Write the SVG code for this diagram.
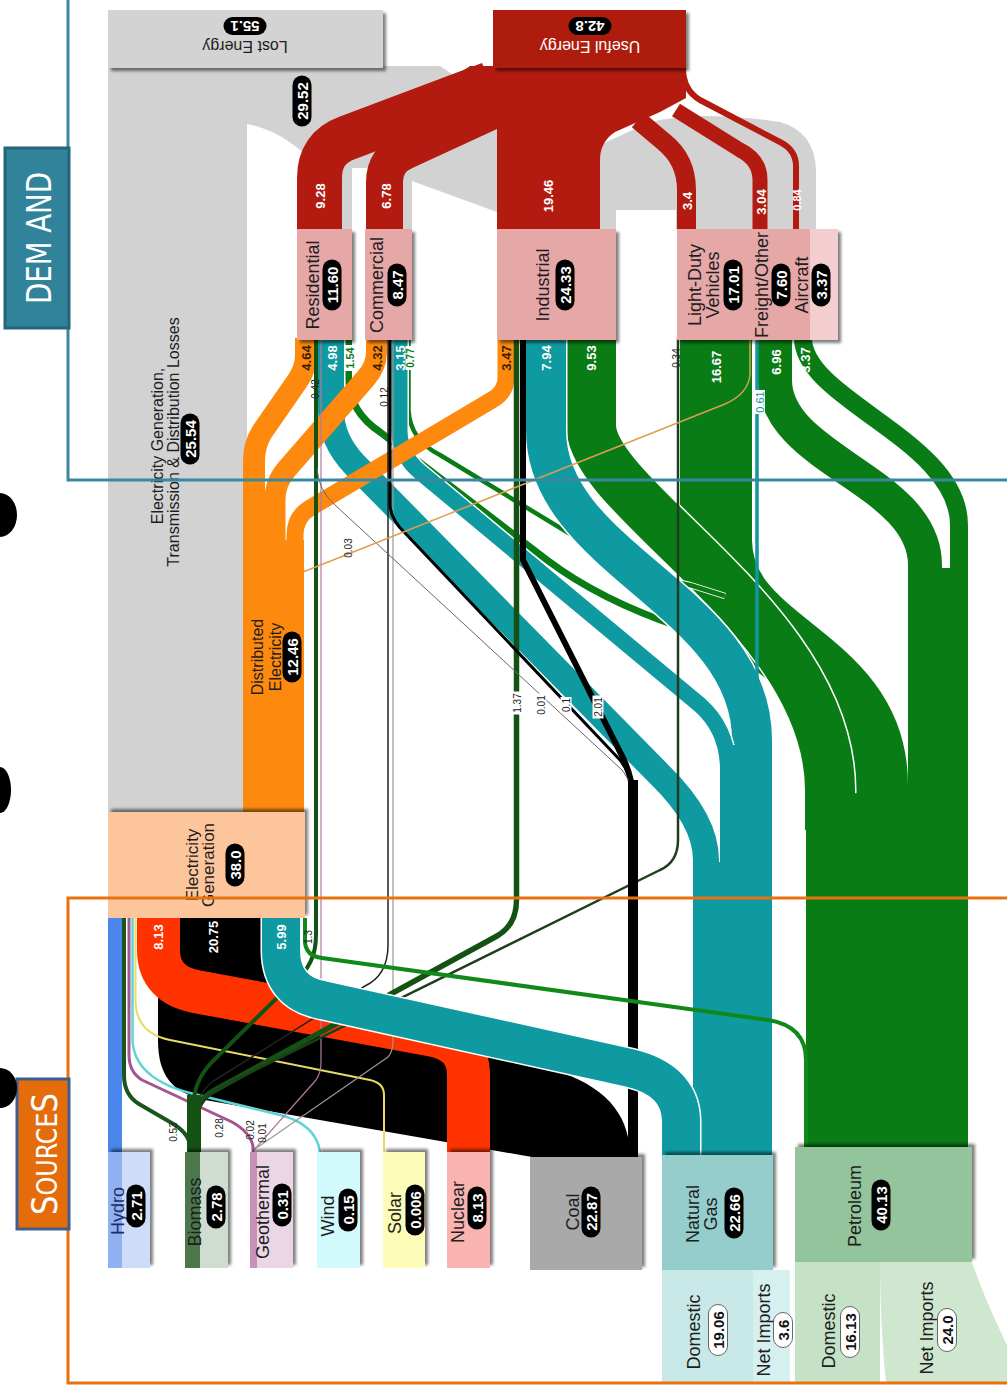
<svg xmlns="http://www.w3.org/2000/svg" width="1007" height="1386" viewBox="0 0 1007 1386">
<defs>
<style>
text{font-family:'Liberation Sans',Arial,sans-serif}
.lbl{font-size:18px;fill:#1e1e1e;text-anchor:middle}
.pill rect{fill:#000}
.pill text{font-size:15px;font-weight:bold;fill:#fff;text-anchor:middle}
.wp rect{fill:#fff;stroke:#444;stroke-width:0.8}
.wp text{font-size:15px;font-weight:bold;fill:#111;text-anchor:middle}
.fl{font-size:13px;font-weight:bold;text-anchor:middle;fill:#fff}
.fd{font-size:13px;font-weight:bold;text-anchor:middle;fill:#3a1e00}
.sm{font-size:10px;text-anchor:middle;fill:#222}
.band{fill:none;stroke-linejoin:round}
.case{fill:none;stroke:#fff;stroke-linejoin:round}
.gray{fill:#d2d2d2}
</style>
<filter id="shU" x="-20%" y="-20%" width="140%" height="140%"><feDropShadow dx="3" dy="-3" stdDeviation="1.8" flood-color="#000" flood-opacity="0.5"/></filter>
<filter id="shD" x="-20%" y="-20%" width="140%" height="140%"><feDropShadow dx="3" dy="3" stdDeviation="1.8" flood-color="#000" flood-opacity="0.5"/></filter>
<path id="gAir" d="M803,338 C803,400 959,440 959,525 L959,600"/>
<path id="gFr" d="M775,338 L775,380 C775,460 925,480 925,565 L925,620"/>
<path id="gLdv" d="M716,338 L716,540 C716,650 872,655 872,785 L872,830"/>
<path id="gInd" d="M591,338 L591,425 C591,500 830,620 830,790 L830,830"/>
<path id="tInd" d="M546,338 L546,430 C546,560 752,600 752,740 L752,800"/>
<path id="tCom" d="M399.5,338 L399.5,430 Q399.5,455 420,472 L700,705 Q728,730 728,770 L728,800"/>
<path id="tRes" d="M331,338 L331,410 Q331,440 355,465 L660,775 Q706,820 706,860 L706,900"/>
<path id="tElec" d="M281,918 L281,950 Q281,992 322,1000 L630,1068 Q680,1080 681,1120 L681,1157"/>
<path id="gResL" d="M348.5,338 L348.5,380 Q350,412 380,432 L547,560 Q600,600 680,627 L745,658"/>
<path id="gComL" d="M408.5,338 L408.5,410 Q410,440 440,455 L613,560 Q650,578 690,585 L725,596"/>
</defs>
<rect width="1007" height="1386" fill="#fff"/>

<g id="connectors">
<!-- losses (gray) -->
<path class="gray" d="M108,66 L440,66 L497,104 L497,212 L412,181 L366,168 L352,168 L352,229 L342,229 L342,192 C318,168 292,132 247,124 L247,812 L108,812 Z"/>
<rect class="gray" x="403" y="178" width="9" height="51"/>
<path class="gray" d="M600,145 L650,122 Q700,110 780,122 Q815,132 816,170 L816,229 L676,229 L676,210 L616,210 L616,229 L600,229 Z"/>
<!-- useful energy (red) -->
<g class="band" stroke="#b31b10">
<path stroke-width="45" d="M319.5,229 L319.5,178 Q319.5,148 347,138 L490,84"/>
<path stroke-width="37" d="M384.5,229 L384.5,182 Q384.5,160 405,151 L520,98"/>
<path stroke-width="19" d="M686.5,229 L686.5,190 Q686.5,160 664,142 L638,120"/>
<path stroke-width="15" d="M760,229 L760,180 Q760,160 740,150 L676,110"/>
<path stroke-width="6" d="M796,229 L796,166 Q796,150 780,142 L700,100 Q683,90 683,68"/>
</g>
<path fill="#b31b10" d="M470,66 L686,66 L686,98 L660,112 L615,132 Q600,142 600,160 L600,229 L497,229 L497,128 L420,100 Z"/>
<!-- coal to electricity -->
<path fill="#000" d="M180,918 L263,918 L263,962 L560,1072 C612,1090 630,1120 630,1157 L532,1157 L205,1100 C172,1093 158,1075 158,1040 L158,985 L180,960 Z"/>
<!-- nuclear -->
<path class="band" stroke="#ff3300" stroke-width="43" d="M158.5,918 L158.5,950 Q158.5,985 198,992 L432,1035 Q468.5,1042 468.5,1075 L468.5,1152"/>
<!-- hydro -->
<rect x="108" y="916" width="14" height="238" fill="#4a86ec"/>
<!-- petroleum -->
<use href="#gAir" class="case" stroke-width="21"/><use href="#gAir" class="band" stroke="#0a7c16" stroke-width="18"/>
<use href="#gFr" class="case" stroke-width="37"/><use href="#gFr" class="band" stroke="#0a7c16" stroke-width="34"/>
<use href="#gLdv" class="case" stroke-width="75"/><use href="#gLdv" class="band" stroke="#0a7c16" stroke-width="72"/>
<use href="#gInd" class="case" stroke-width="53"/><use href="#gInd" class="band" stroke="#0a7c16" stroke-width="50"/>
<use href="#gResL" class="case" stroke-width="9"/><use href="#gResL" class="band" stroke="#0a7c16" stroke-width="7"/>
<use href="#gComL" class="case" stroke-width="6.5"/><use href="#gComL" class="band" stroke="#0a7c16" stroke-width="4.5"/>
<path fill="#0a7c16" d="M806,796 L908,790 L908,568 L950,568 L950,528 L968,528 L968,1150 L806,1150 Z"/>
<!-- natural gas to end use -->
<use href="#tInd" class="case" stroke-width="43"/><use href="#tInd" class="band" stroke="#0e9aa0" stroke-width="40"/>
<use href="#tCom" class="case" stroke-width="19"/><use href="#tCom" class="band" stroke="#0e9aa0" stroke-width="16"/>
<use href="#tRes" class="case" stroke-width="29"/><use href="#tRes" class="band" stroke="#0e9aa0" stroke-width="26"/>
<path fill="#0e9aa0" d="M693,862 L720,862 L720,778 L732,778 L732,745 L772,745 L772,1157 L693,1157 Z"/>
<!-- distributed electricity -->
<g class="band" stroke="#fd8a0e">
<path stroke-width="22" d="M306,338 L306,355 Q306,368 298,380 L262,432 Q254,445 254,460 L254,812"/>
<path stroke-width="21" d="M376.5,338 L376.5,352 Q376.5,366 366,378 L286,470 Q275,483 275,500 L275,812"/>
<path stroke-width="17" d="M506,338 L506,378 Q506,392 492,400 L310,508 Q295,517 295,535 L295,812"/>
</g>
<rect x="243" y="540" width="61" height="272" fill="#fd8a0e"/>
<!-- renewables to electricity -->
<g class="band">
<path stroke="#1a561a" stroke-width="4" d="M190,1152 L190,1145 Q188,1132 170,1122 L139,1104 Q124,1095 124,1075 L124,916"/>
<path stroke="#a4558f" stroke-width="3" d="M253,1152 L253,1146 Q250,1132 232,1122 L142,1080 Q129,1072 129,1055 L129,916"/>
<path stroke="#5fd4d4" stroke-width="2.5" d="M320,1152 Q316,1124 280,1115 L190,1093 Q134,1078 132.5,1040 L132.5,916"/>
<path stroke="#e9dc62" stroke-width="2" d="M384,1152 L384,1095 Q384,1083 370,1080 L170,1040 Q135.5,1033 135.5,1000 L135.5,916"/>
<path stroke="#b07aa5" stroke-width="1.2" d="M254,1150 L316,1080 Q321,1073 321,1062 L321,338"/>
<path stroke="#999" stroke-width="1.2" d="M258,1147 L388,1057 Q393,1052 393,1040 L393,338"/>
<!-- biomass -->
<path stroke="#145214" stroke-width="4" d="M316,338 L316,935 Q316,965 295,980 L212,1062 Q195,1080 194,1100"/>
<path stroke="#145214" stroke-width="5.5" d="M516.5,338 L516.5,900 Q516.5,925 497,936 L215,1090 Q197,1100 195,1115"/>
<path stroke="#1d3d1d" stroke-width="2.5" d="M678,338 L678,840 Q678,862 660,870 L225,1085 Q200,1098 198,1115"/>
<path stroke="#222" stroke-width="1.5" d="M388,338 L388,945 Q388,975 365,986 L215,1080 Q198,1092 197,1110"/>
<!-- coal to end use -->
<path stroke="#000" stroke-width="6" d="M523,338 L523,560 L620,752 Q633,776 633,800"/>
<path stroke="#000" stroke-width="3" d="M390,338 L390,505 Q391,520 405,533 L620,760 Q630,772 631,790"/>
<path stroke="#666" stroke-width="1" d="M317,468 Q318,490 335,505 L622,770 Q630,780 631,790"/>
</g>
<rect x="187" y="1095" width="14" height="58" fill="#145214"/>
<rect x="628" y="780" width="10" height="377" fill="#000"/>
<!-- natural gas to electricity -->
<use href="#tElec" class="case" stroke-width="41"/><use href="#tElec" class="band" stroke="#0e9aa0" stroke-width="38"/>
<g class="band">
<path stroke="#0f8a1a" stroke-width="4" d="M305,918 L305,942 Q306,956 322,958 L768,1020 Q806,1026 806,1060 L806,1150"/>
<path stroke="#dc9f52" stroke-width="1.5" d="M303,572 L725,404 Q748,394 750,375 L750,338"/>
<path stroke="#1296a0" stroke-width="3.5" d="M757,338 L757,880"/>
</g>
</g>

<!-- top nodes -->
<g id="lost-energy">
<rect x="108" y="10" width="275" height="58" fill="#d3d3d3" filter="url(#shD)"/>
<g transform="translate(245,37) rotate(180)"><text class="lbl" y="-4" style="font-size:16px">Lost Energy</text><g class="pill"><rect x="-21.5" y="2" width="43" height="18" rx="9"/><text y="16">55.1</text></g></g>
</g>
<g id="useful-energy">
<rect x="493" y="10" width="193" height="58" fill="#ad1a0e" filter="url(#shD)"/>
<g transform="translate(590,37) rotate(180)"><text class="lbl" y="-4" style="font-size:16px;fill:#fff">Useful Energy</text><g class="pill"><rect x="-21.5" y="2" width="43" height="18" rx="9"/><text y="16">42.8</text></g></g>
</g>
<g id="loss-label">
<text class="lbl" style="font-size:16px" transform="translate(157,446) rotate(-90)" y="6">Electricity Generation,</text>
<text class="lbl" style="font-size:16px" transform="translate(173,442) rotate(-90)" y="6">Transmission &amp; Distribution Losses</text>
<g class="pill" transform="translate(190,439) rotate(-90)"><rect x="-25.5" y="-9.5" width="51" height="19" rx="9.5"/><text y="5.5">25.54</text></g>
<g class="pill" transform="translate(302,101) rotate(-90)"><rect x="-25.5" y="-9.5" width="51" height="19" rx="9.5"/><text y="5.5">29.52</text></g>
</g>

<!-- demand nodes -->
<g id="residential">
<rect x="297" y="229" width="55" height="111" fill="#e6a7a7" filter="url(#shD)"/>
<text class="lbl" transform="translate(313,285) rotate(-90)" y="6">Residential</text>
<g class="pill" transform="translate(332,285) rotate(-90)"><rect x="-25.5" y="-9.5" width="51" height="19" rx="9.5"/><text y="5.5">11.60</text></g>
</g>
<g id="commercial">
<rect x="365" y="229" width="47" height="111" fill="#e6a7a7" filter="url(#shD)"/>
<text class="lbl" transform="translate(377,285) rotate(-90)" y="6">Commercial</text>
<g class="pill" transform="translate(397,285) rotate(-90)"><rect x="-21.5" y="-9.5" width="43" height="19" rx="9.5"/><text y="5.5">8.47</text></g>
</g>
<g id="industrial">
<rect x="497" y="229" width="119" height="111" fill="#e6a7a7" filter="url(#shD)"/>
<text class="lbl" transform="translate(543,285) rotate(-90)" y="6">Industrial</text>
<g class="pill" transform="translate(565,285) rotate(-90)"><rect x="-25.5" y="-9.5" width="51" height="19" rx="9.5"/><text y="5.5">24.33</text></g>
</g>
<g id="light-duty">
<rect x="677" y="229" width="75" height="111" fill="#e6a7a7" filter="url(#shD)"/>
<text class="lbl" transform="translate(695,285) rotate(-90)" y="6">Light-Duty</text>
<text class="lbl" transform="translate(713,285) rotate(-90)" y="6">Vehicles</text>
<g class="pill" transform="translate(733,285) rotate(-90)"><rect x="-25.5" y="-9.5" width="51" height="19" rx="9.5"/><text y="5.5">17.01</text></g>
</g>
<g id="freight">
<rect x="752" y="229" width="40" height="111" fill="#e6a7a7" filter="url(#shD)"/>
<text class="lbl" transform="translate(762,285) rotate(-90)" y="6">Freight/Other</text>
<g class="pill" transform="translate(781,285) rotate(-90)"><rect x="-21.5" y="-9.5" width="43" height="19" rx="9.5"/><text y="5.5">7.60</text></g>
</g>
<g id="aircraft">
<rect x="792" y="229" width="46" height="111" fill="#e6a7a7" filter="url(#shD)"/>
<rect x="810" y="229" width="28" height="111" fill="#f2cece"/>
<text class="lbl" transform="translate(802,285) rotate(-90)" y="6">Aircraft</text>
<g class="pill" transform="translate(821,285) rotate(-90)"><rect x="-21.5" y="-9.5" width="43" height="19" rx="9.5"/><text y="5.5">3.37</text></g>
</g>

<!-- electricity generation -->
<g id="electricity-generation">
<rect x="108" y="812" width="197" height="106" fill="#fcc59c" filter="url(#shU)"/>
<text class="lbl" style="font-size:17px" transform="translate(192,865) rotate(-90)" y="6">Electricity</text>
<text class="lbl" style="font-size:17px" transform="translate(208,865) rotate(-90)" y="6">Generation</text>
<g class="pill" transform="translate(235,865) rotate(-90)"><rect x="-21.5" y="-9.5" width="43" height="19" rx="9.5"/><text y="5.5">38.0</text></g>
</g>
<g id="distributed-electricity">
<text class="lbl" style="font-size:16px" transform="translate(257,657) rotate(-90)" y="6">Distributed</text>
<text class="lbl" style="font-size:16px" transform="translate(275,657) rotate(-90)" y="6">Electricity</text>
<g class="pill" transform="translate(292,657) rotate(-90)"><rect x="-25.5" y="-9.5" width="51" height="19" rx="9.5"/><text y="5.5">12.46</text></g>
</g>

<!-- source nodes -->
<g id="hydro">
<rect x="108" y="1152" width="42" height="116" fill="#cddcf8" filter="url(#shU)"/>
<rect x="108" y="1152" width="14" height="116" fill="#8fb1f1"/>
<text class="lbl" style="fill:#1b2d6b" transform="translate(118,1211) rotate(-90)" y="6">Hydro</text>
<g class="pill" transform="translate(136,1206) rotate(-90)"><rect x="-21.5" y="-9.5" width="43" height="19" rx="9.5"/><text y="5.5">2.71</text></g>
</g>
<g id="biomass">
<rect x="185" y="1152" width="43" height="116" fill="#d0dcd0" filter="url(#shU)"/>
<rect x="185" y="1152" width="15" height="116" fill="#4b774b"/>
<text class="lbl" transform="translate(195,1212) rotate(-90)" y="6">Biomass</text>
<g class="pill" transform="translate(216,1207) rotate(-90)"><rect x="-21.5" y="-9.5" width="43" height="19" rx="9.5"/><text y="5.5">2.78</text></g>
</g>
<g id="geothermal">
<rect x="250" y="1152" width="43" height="116" fill="#ecd6e6" filter="url(#shU)"/>
<rect x="250" y="1152" width="7" height="116" fill="#c891b9"/>
<text class="lbl" transform="translate(263,1212) rotate(-90)" y="6">Geothermal</text>
<g class="pill" transform="translate(282,1205) rotate(-90)"><rect x="-21.5" y="-9.5" width="43" height="19" rx="9.5"/><text y="5.5">0.31</text></g>
</g>
<g id="wind">
<rect x="317" y="1152" width="43" height="116" fill="#d2fafc" filter="url(#shU)"/>
<text class="lbl" transform="translate(328,1216) rotate(-90)" y="6">Wind</text>
<g class="pill" transform="translate(348,1210) rotate(-90)"><rect x="-21.5" y="-9.5" width="43" height="19" rx="9.5"/><text y="5.5">0.15</text></g>
</g>
<g id="solar">
<rect x="383" y="1152" width="42" height="116" fill="#fdfcb8" filter="url(#shU)"/>
<text class="lbl" transform="translate(395,1213) rotate(-90)" y="6">Solar</text>
<g class="pill" transform="translate(415,1210) rotate(-90)"><rect x="-25.5" y="-9.5" width="51" height="19" rx="9.5"/><text y="5.5">0.006</text></g>
</g>
<g id="nuclear">
<rect x="447" y="1152" width="43" height="116" fill="#f9b3b0" filter="url(#shU)"/>
<text class="lbl" transform="translate(458,1212) rotate(-90)" y="6">Nuclear</text>
<g class="pill" transform="translate(477,1208) rotate(-90)"><rect x="-21.5" y="-9.5" width="43" height="19" rx="9.5"/><text y="5.5">8.13</text></g>
</g>
<g id="coal">
<rect x="530" y="1157" width="112" height="113" fill="#a9a9a9" filter="url(#shU)"/>
<text class="lbl" transform="translate(573,1212) rotate(-90)" y="6">Coal</text>
<g class="pill" transform="translate(591,1212) rotate(-90)"><rect x="-25.5" y="-9.5" width="51" height="19" rx="9.5"/><text y="5.5">22.87</text></g>
</g>
<g id="natural-gas">
<rect x="662" y="1155" width="111" height="115" fill="#95cdcd" filter="url(#shU)"/>
<text class="lbl" transform="translate(693,1214) rotate(-90)" y="6">Natural</text>
<text class="lbl" transform="translate(711,1214) rotate(-90)" y="6">Gas</text>
<g class="pill" transform="translate(734,1213) rotate(-90)"><rect x="-25.5" y="-9.5" width="51" height="19" rx="9.5"/><text y="5.5">22.66</text></g>
</g>
<g id="petroleum">
<rect x="795" y="1147" width="177" height="115" fill="#93c49b" filter="url(#shU)"/>
<text class="lbl" transform="translate(855,1206) rotate(-90)" y="6">Petroleum</text>
<g class="pill" transform="translate(881,1205) rotate(-90)"><rect x="-25.5" y="-9.5" width="51" height="19" rx="9.5"/><text y="5.5">40.13</text></g>
</g>
<g id="ng-domestic">
<rect x="662" y="1270" width="91" height="113" fill="#c8e8e8"/>
<text class="lbl" transform="translate(694,1332) rotate(-90)" y="6">Domestic</text>
<g class="wp" transform="translate(718,1330) rotate(-90)"><rect x="-25.5" y="-9.5" width="51" height="19" rx="9.5"/><text y="5.5">19.06</text></g>
</g>
<g id="ng-imports">
<rect x="753" y="1270" width="37" height="113" fill="#d6f0f0"/>
<text class="lbl" transform="translate(764,1330) rotate(-90)" y="6">Net Imports</text>
<g class="wp" transform="translate(783,1330) rotate(-90)"><rect x="-17.5" y="-9.5" width="35" height="19" rx="9.5"/><text y="5.5">3.6</text></g>
</g>
<g id="pet-domestic">
<rect x="795" y="1262" width="85" height="121" fill="#c6e2c6"/>
<text class="lbl" transform="translate(829,1331) rotate(-90)" y="6">Domestic</text>
<g class="wp" transform="translate(850,1332) rotate(-90)"><rect x="-25.5" y="-9.5" width="51" height="19" rx="9.5"/><text y="5.5">16.13</text></g>
</g>
<g id="pet-imports">
<path d="M880,1262 L972,1262 C985,1300 1000,1330 1007,1345 L1007,1383 L886,1383 C882,1340 880,1300 880,1262 Z" fill="#cfe6cf"/>
<text class="lbl" transform="translate(927,1328) rotate(-90)" y="6">Net Imports</text>
<g class="wp" transform="translate(947,1330) rotate(-90)"><rect x="-21.5" y="-9.5" width="43" height="19" rx="9.5"/><text y="5.5">24.0</text></g>
</g>

<!-- flow values -->
<g id="flow-labels">
<text class="fl" transform="translate(320,196) rotate(-90)" y="4.5">9.28</text>
<text class="fl" transform="translate(386,196) rotate(-90)" y="4.5">6.78</text>
<text class="fl" transform="translate(548,196) rotate(-90)" y="4.5">19.46</text>
<text class="fl" transform="translate(687,201) rotate(-90)" y="4.5">3.4</text>
<text class="fl" transform="translate(761,202) rotate(-90)" y="4.5">3.04</text>
<text class="fl" style="font-size:11px" transform="translate(797,200) rotate(-90)" y="4">0.84</text>
<text class="fd" transform="translate(306,358) rotate(-90)" y="4.5">4.64</text>
<text class="fl" transform="translate(332,358) rotate(-90)" y="4.5">4.98</text>
<g transform="translate(350,358) rotate(-90)"><rect x="-13" y="-5.5" width="26" height="11" fill="#fff"/><text class="sm" style="fill:#0a7c16;font-weight:bold;font-size:11px" y="4">1.54</text></g>
<text class="fd" transform="translate(377,358) rotate(-90)" y="4.5">4.32</text>
<text class="fl" transform="translate(400,358) rotate(-90)" y="4.5">3.15</text>
<g transform="translate(410,358) rotate(-90)"><rect x="-12" y="-4.5" width="24" height="9" fill="#fff"/><text class="sm" style="fill:#0a7c16;font-weight:bold" y="3.5">0.77</text></g>
<text class="fd" transform="translate(506,358) rotate(-90)" y="4.5">3.47</text>
<text class="fl" transform="translate(546,358) rotate(-90)" y="4.5">7.94</text>
<text class="fl" transform="translate(591,358) rotate(-90)" y="4.5">9.53</text>
<text class="fl" transform="translate(716,367) rotate(-90)" y="4.5">16.67</text>
<text class="fl" transform="translate(776,362) rotate(-90)" y="4.5">6.96</text>
<text class="fl" transform="translate(805,360) rotate(-90)" y="4.5">3.37</text>
<text class="sm" transform="translate(315,389) rotate(-90)" y="3.5">0.42</text>
<text class="sm" transform="translate(384,397) rotate(-90)" y="3.5">0.12</text>
<text class="sm" transform="translate(676,358) rotate(-90)" y="3.5">0.34</text>
<g transform="translate(760,402) rotate(-90)"><rect x="-12" y="-5" width="24" height="10" fill="#fff"/><text class="sm" style="fill:#1296a0;font-size:11px" y="4">0.61</text></g>
<text class="sm" transform="translate(348,548) rotate(-90)" y="3.5">0.03</text>
<g transform="translate(517,703) rotate(-90)"><rect x="-11.5" y="-5.5" width="23" height="11" fill="#fff"/><text class="sm" y="3.5">1.37</text></g>
<g transform="translate(541,705) rotate(-90)"><rect x="-11.5" y="-5.5" width="23" height="11" fill="#fff"/><text class="sm" y="3.5">0.01</text></g>
<g transform="translate(566,705) rotate(-90)"><rect x="-8" y="-5.5" width="16" height="11" fill="#fff"/><text class="sm" y="3.5">0.1</text></g>
<g transform="translate(598,707) rotate(-90)"><rect x="-11.5" y="-5.5" width="23" height="11" fill="#fff"/><text class="sm" y="3.5">2.01</text></g>
<text class="fl" transform="translate(158,937) rotate(-90)" y="4.5">8.13</text>
<text class="fl" transform="translate(213,937) rotate(-90)" y="4.5">20.75</text>
<text class="fl" transform="translate(281,937) rotate(-90)" y="4.5">5.99</text>
<text class="sm" transform="translate(308,937) rotate(-90)" y="3.5">1.3</text>
<text class="sm" transform="translate(173,1132) rotate(-90)" y="3.5">0.53</text>
<text class="sm" transform="translate(219,1128) rotate(-90)" y="3.5">0.28</text>
<text class="sm" transform="translate(250,1130) rotate(-90)" y="3.5">0.02</text>
<text class="sm" transform="translate(262,1133) rotate(-90)" y="3.5">0.01</text>
</g>

<!-- frames and tags -->
<g id="frames" fill="none" stroke-width="3">
<path stroke="#3a87a2" d="M68,0 L68,480 L1007,480"/>
<path stroke="#e8720f" d="M1007,898 L68,898 L68,1383 L1007,1383"/>
</g>
<g id="demand-tag">
<rect x="5" y="148" width="64" height="180" fill="#31839c" stroke="#25657a" stroke-width="3"/>
<text transform="translate(39,238) rotate(-90)" y="12" textLength="132" lengthAdjust="spacingAndGlyphs" style="font-family:'DejaVu Sans Condensed','Liberation Sans Narrow',sans-serif;font-size:34px;fill:#fff;text-anchor:middle">DEM AND</text>
</g>
<g id="sources-tag">
<rect x="17" y="1079" width="52" height="150" fill="#e46c0a" stroke="#3d5f8e" stroke-width="3"/>
<text transform="translate(44,1154) rotate(-90)" y="13" textLength="122" lengthAdjust="spacingAndGlyphs" style="font-family:'DejaVu Sans Condensed','Liberation Sans Narrow',sans-serif;font-size:28px;fill:#fff;text-anchor:middle"><tspan style="font-size:36px">S</tspan>OURCE<tspan style="font-size:36px">S</tspan></text>
</g>
<g id="edge-marks" fill="#000">
<ellipse cx="0" cy="515" rx="17" ry="22"/>
<ellipse cx="0" cy="790" rx="11" ry="23"/>
<ellipse cx="0" cy="1088" rx="17" ry="20"/>
</g>
</svg>
